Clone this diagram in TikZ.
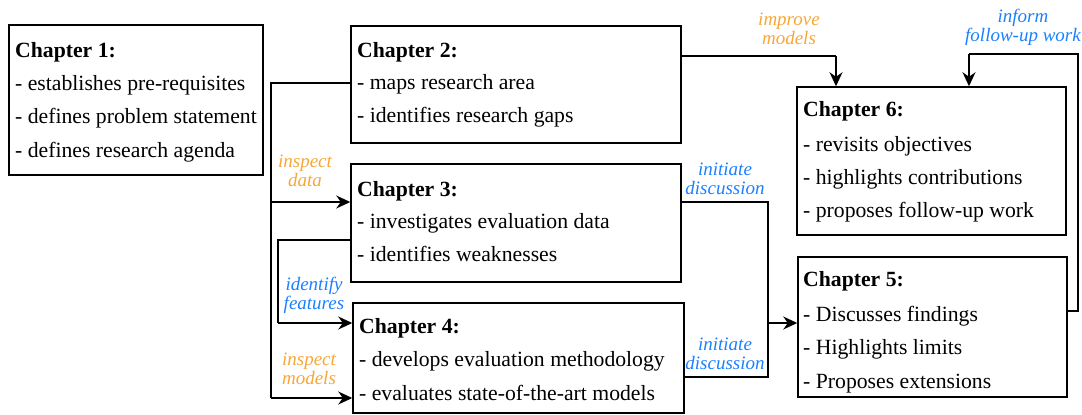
\documentclass[tikz,border=0pt]{standalone}
\usepackage{fontspec}
\setmainfont{Liberation Serif}
\usetikzlibrary{arrows.meta}
\definecolor{lblorange}{HTML}{F7A738}
\definecolor{lblblue}{HTML}{1A80FF}
\tikzset{
  box/.style={draw=black, line width=1.5pt, fill=white, inner sep=0pt},
  txt/.style={anchor=base west, inner sep=0pt, font=\fontsize{21.7}{25}\selectfont},
  head/.style={txt, font=\fontsize{21.7}{25}\selectfont\bfseries},
  lbl/.style={inner sep=0pt, align=center, font=\fontsize{19}{19}\selectfont\itshape},
  conn/.style={draw=black, line width=1.5pt},
  arr/.style={conn, -{Stealth[length=14pt,width=13pt,inset=4.5pt]}}
}
\begin{document}
\begin{tikzpicture}[x=1pt,y=-1pt]
\useasboundingbox (0,0) rectangle (1082,415);

% boxes
\node[box, minimum width=254pt, minimum height=150pt] (c1) at (136,100) {};
\node[box, minimum width=330pt, minimum height=117pt] (c2) at (516,84.5) {};
\node[box, minimum width=330pt, minimum height=118pt] (c3) at (516,223) {};
\node[box, minimum width=331pt, minimum height=110pt] (c4) at (518.5,358) {};
\node[box, minimum width=269pt, minimum height=148pt] (c6) at (931.5,161) {};
\node[box, minimum width=269pt, minimum height=140pt] (c5) at (932.5,327) {};

% texts
\node[head] (c1a) at (15,57) {Chapter 1:};
\node[txt] (c1b) at (15,90) {- establishes pre-requisites};
\node[txt] (c1c) at (15,123) {- defines problem statement};
\node[txt] (c1d) at (15,157) {- defines research agenda};

\node[head] (c2a) at (357,57) {Chapter 2:};
\node[txt] (c2b) at (357,89) {- maps research area};
\node[txt] (c2c) at (357,122) {- identifies research gaps};

\node[head] (c3a) at (357,196) {Chapter 3:};
\node[txt] (c3b) at (357,228) {- investigates evaluation data};
\node[txt] (c3c) at (357,261) {- identifies weaknesses};

\node[head] (c4a) at (359,333) {Chapter 4:};
\node[txt] (c4b) at (359,366) {- develops evaluation methodology};
\node[txt] (c4c) at (359,400) {- evaluates state-of-the-art models};

\node[head] (c6a) at (803,116) {Chapter 6:};
\node[txt] (c6b) at (803,151) {- revisits objectives};
\node[txt] (c6c) at (803,184) {- highlights contributions};
\node[txt] (c6d) at (803,217) {- proposes follow-up work};

\node[head] (c5a) at (803,286) {Chapter 5:};
\node[txt] (c5b) at (803,321) {- Discusses findings};
\node[txt] (c5c) at (803,354) {- Highlights limits};
\node[txt] (c5d) at (803,388) {- Proposes extensions};

% connector corner points
\coordinate (p1) at (271,83);
\coordinate (p2) at (271,398);
\coordinate (p3) at (271,202);
\coordinate (q1) at (278,240);
\coordinate (q2) at (278,323);
\coordinate (r1) at (836,56);
\coordinate (s1) at (768,202);
\coordinate (s2) at (768,377);
\coordinate (s3) at (768,323);
\coordinate (t1) at (1078,311);
\coordinate (t2) at (1078,54);
\coordinate (t3) at (969,54);

% connectors
\draw[conn] (c2.west |- p1) -- (p1) -- (p2);
\draw[arr] (p2) -- (c4.west |- p2);
\draw[arr] (p3) -- (c3.west |- p3);
\draw[conn] (c3.west |- q1) -- (q1) -- (q2);
\draw[arr] (q2) -- (c4.west |- q2);
\draw[conn] (c2.east |- r1) -- (r1);
\draw[arr] (r1) -- (c6.north -| r1);
\draw[conn] (c3.east |- s1) -- (s1) -- (s2) -- (c4.east |- s2);
\draw[arr] (s3) -- (c5.west |- s3);
\draw[conn] (c5.east |- t1) -- (t1) -- (t2) -- (t3);
\draw[arr] (t3) -- (c6.north -| t3);

% labels
\node[lbl, text=lblorange] (l1) at (789,29) {improve\\models};
\node[lbl, text=lblblue] (l2) at (1023,27) {inform\\follow-up work};
\node[lbl, text=lblorange] (l3) at (305,170.5) {inspect\\data};
\node[lbl, text=lblblue] (l4) at (314,295.5) {identify\\features};
\node[lbl, text=lblorange] (l5) at (309,369) {inspect\\models};
\node[lbl, text=lblblue] (l6) at (725,179) {initiate\\discussion};
\node[lbl, text=lblblue] (l7) at (725,353.5) {initiate\\discussion};
\end{tikzpicture}
\end{document}
